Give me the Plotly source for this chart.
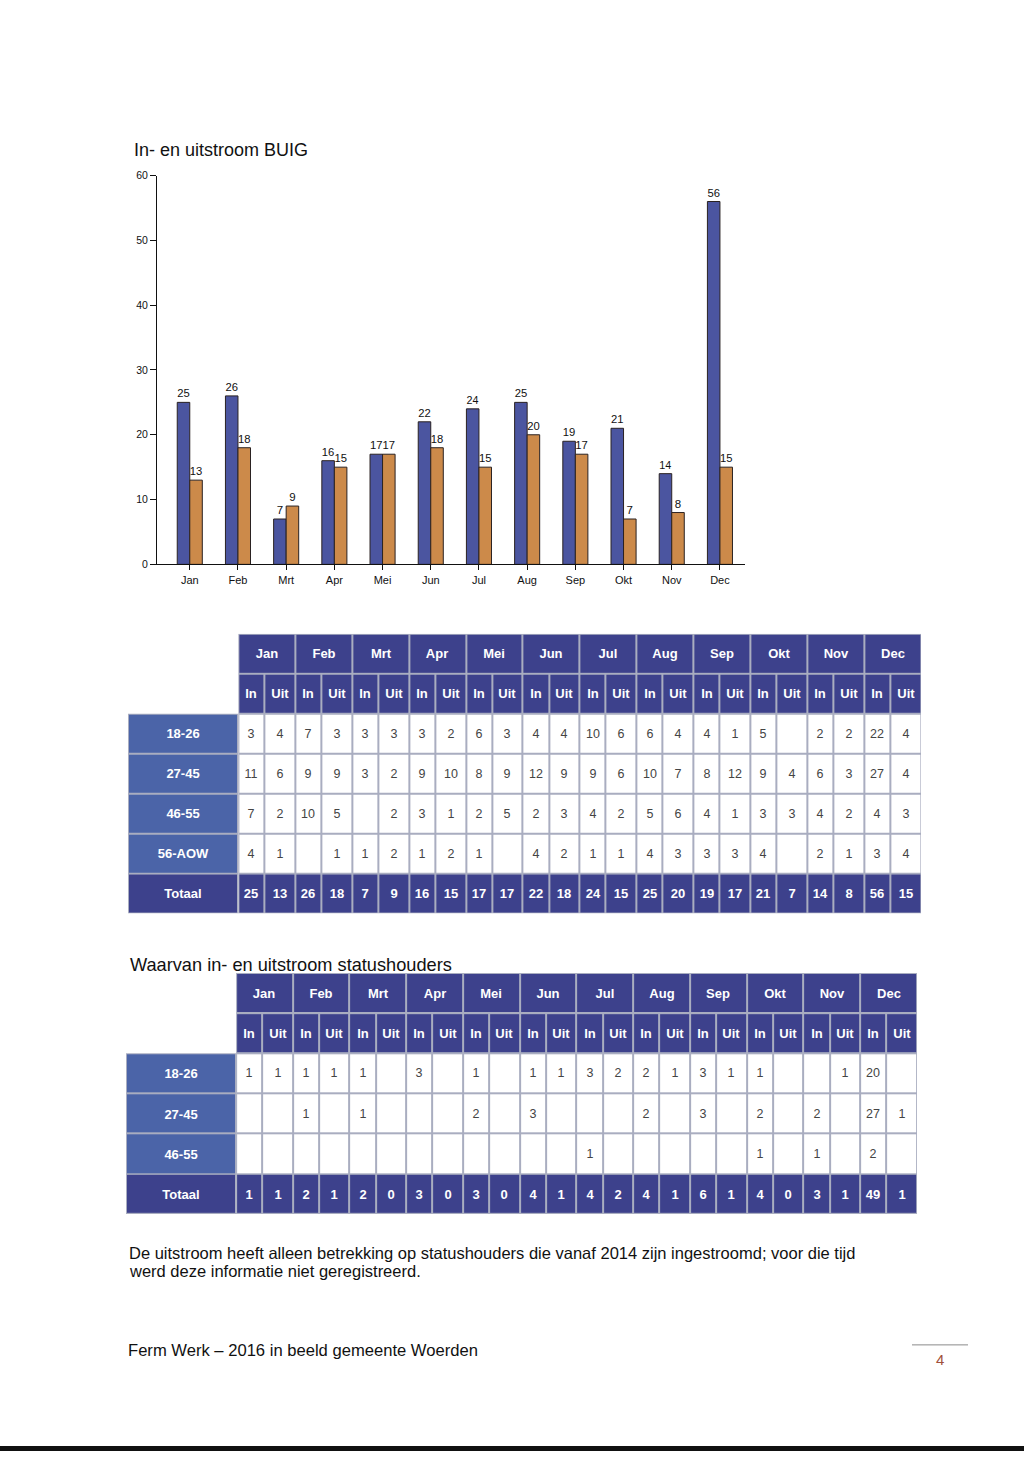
import plotly.graph_objects as go

# ---------------- data ----------------
months = ["Jan", "Feb", "Mrt", "Apr", "Mei", "Jun", "Jul", "Aug", "Sep", "Okt", "Nov", "Dec"]
buig_in = [25, 26, 7, 16, 17, 22, 24, 25, 19, 21, 14, 56]
buig_uit = [13, 18, 9, 15, 17, 18, 15, 20, 17, 7, 8, 15]
y_ticks = [0, 10, 20, 30, 40, 50, 60]
sub_headers = ["In", "Uit"]

age_groups = ["18-26", "27-45", "46-55", "56-AOW"]
in_18_26 = [3, 7, 3, 3, 6, 4, 10, 6, 4, 5, 2, 22]
uit_18_26 = [4, 3, 3, 2, 3, 4, 6, 4, 1, None, 2, 4]
in_27_45 = [11, 9, 3, 9, 8, 12, 9, 10, 8, 9, 6, 27]
uit_27_45 = [6, 9, 2, 10, 9, 9, 6, 7, 12, 4, 3, 4]
in_46_55 = [7, 10, None, 3, 2, 2, 4, 5, 4, 3, 4, 4]
uit_46_55 = [2, 5, 2, 1, 5, 3, 2, 6, 1, 3, 2, 3]
in_56_aow = [4, None, 1, 1, 1, 4, 1, 4, 3, 4, 2, 3]
uit_56_aow = [1, 1, 2, 2, None, 2, 1, 3, 3, None, 1, 4]

status_groups = ["18-26", "27-45", "46-55"]
st_in_18_26 = [1, 1, 1, 3, 1, 1, 3, 2, 3, 1, None, 20]
st_uit_18_26 = [1, 1, None, None, None, 1, 2, 1, 1, None, 1, None]
st_in_27_45 = [None, 1, 1, None, 2, 3, None, 2, 3, 2, 2, 27]
st_uit_27_45 = [None, None, None, None, None, None, None, None, None, None, None, 1]
st_in_46_55 = [None, None, None, None, None, None, 1, None, None, 1, 1, 2]
st_uit_46_55 = [None] * 12
st_tot_in = [1, 2, 2, 3, 3, 4, 4, 4, 6, 4, 3, 49]
st_tot_uit = [1, 1, 0, 0, 0, 1, 2, 1, 1, 0, 1, 1]

# ---------------- styles ----------------
W, H = 1024, 1457
FONT = "Liberation Sans, Arial, sans-serif"
NARROW = "Liberation Sans Narrow, Arial Narrow, Liberation Sans, Arial, sans-serif"
BLUE = "#4b55a0"
ORANGE = "#cc8a4a"
NAVY = "#3d418c"
LABEL_BLUE = "#4b64a8"
GRID = "#a9adc0"
IN_FRAC = 0.92


def px_x(p):
    return p / W


def px_y(p):
    return 1 - p / H


def interleave(a, b):
    out = []
    for u, v in zip(a, b):
        out += [u, v]
    return out


def s(v):
    return "" if v is None else str(v)


fig = go.Figure()

# ---------------- bar chart ----------------
fig.add_trace(go.Bar(
    x=months, y=buig_in, name="In", marker=dict(color=BLUE, line=dict(color="#2a2222", width=1)),
    text=buig_in, textposition="outside", cliponaxis=False,
    textfont=dict(family=NARROW, size=11.5, color="#111"), hoverinfo="skip"))
fig.add_trace(go.Bar(
    x=months, y=buig_uit, name="Uit", marker=dict(color=ORANGE, line=dict(color="#2a2222", width=1)),
    text=buig_uit, textposition="outside", cliponaxis=False,
    textfont=dict(family=NARROW, size=11.5, color="#111"), hoverinfo="skip"))

# ---------------- tables ----------------
col_edges = []
for m in range(len(months)):
    col_edges += [2 * m, 2 * m + IN_FRAC]
col_edges.append(2 * len(months))
month_edges = [2 * m for m in range(len(months) + 1)]
LABEL_W = 3.88


def cells(xa, ya, x_edges, y_edges, texts, fill, color, size, bold):
    tmpl = "<b>%{text}</b>" if bold else "%{text}"
    return go.Heatmap(
        x=x_edges, y=y_edges, z=[[0] * (len(x_edges) - 1) for _ in range(len(y_edges) - 1)],
        text=texts, texttemplate=tmpl, colorscale=[[0, fill], [1, fill]], showscale=False,
        xgap=2, ygap=2, hoverinfo="skip", xaxis=xa, yaxis=ya,
        textfont=dict(family=FONT, size=size, color=color))


def build_table(xa, ya, groups, in_rows, uit_rows, tot_in, tot_uit):
    n = len(groups)
    fig.add_trace(cells(xa, ya, month_edges, [0, 1], [months], NAVY, "white", 13, True))
    fig.add_trace(cells(xa, ya, col_edges, [1, 2], [sub_headers * len(months)], NAVY, "white", 13, True))
    data_txt = [[s(v) for v in interleave(a, b)] for a, b in zip(in_rows, uit_rows)]
    fig.add_trace(cells(xa, ya, col_edges, list(range(2, 3 + n)), data_txt, "white", "#444444", 12.5, False))
    fig.add_trace(cells(xa, ya, [-LABEL_W, 0], list(range(2, 3 + n)), [[g] for g in groups],
                        LABEL_BLUE, "white", 13, True))
    fig.add_trace(cells(xa, ya, [-LABEL_W, 0], [2 + n, 3 + n], [["Totaal"]], NAVY, "white", 13, True))
    fig.add_trace(cells(xa, ya, col_edges, [2 + n, 3 + n], [[s(v) for v in interleave(tot_in, tot_uit)]],
                        NAVY, "white", 13, True))
    return n + 3


rows1 = build_table("x2", "y2", age_groups,
                    [in_18_26, in_27_45, in_46_55, in_56_aow],
                    [uit_18_26, uit_27_45, uit_46_55, uit_56_aow], buig_in, buig_uit)
rows2 = build_table("x3", "y3", status_groups,
                    [st_in_18_26, st_in_27_45, st_in_46_55],
                    [st_uit_18_26, st_uit_27_45, st_uit_46_55], st_tot_in, st_tot_uit)

shapes = []
for ax, nrows in (("2", rows1), ("3", rows2)):
    shapes.append(dict(type="rect", xref="x" + ax, yref="y" + ax, x0=0, x1=24, y0=0, y1=nrows,
                       fillcolor=GRID, line=dict(width=0), layer="below"))
    shapes.append(dict(type="rect", xref="x" + ax, yref="y" + ax, x0=-LABEL_W, x1=0, y0=2, y1=nrows,
                       fillcolor=GRID, line=dict(width=0), layer="below"))
shapes.append(dict(type="line", xref="paper", yref="paper", x0=px_x(912), x1=px_x(968),
                   y0=px_y(1350), y1=px_y(1350), line=dict(color="#8a8a8a", width=1)))
shapes.append(dict(type="rect", xref="paper", yref="paper", x0=0, x1=1, y0=0, y1=5 / H,
                   fillcolor="#111111", line=dict(width=0)))

hidden = dict(visible=False, fixedrange=True, showgrid=False, zeroline=False)

annotations = [
    dict(text="In- en uitstroom BUIG", x=px_x(132), y=px_y(145), font=dict(size=18)),
    dict(text="Waarvan in- en uitstroom statushouders", x=px_x(128), y=px_y(967), font=dict(size=18.2)),
    dict(text="De uitstroom heeft alleen betrekking op statushouders die vanaf 2014 zijn ingestroomd; voor die tijd",
         x=px_x(127), y=px_y(1257), font=dict(size=16.5)),
    dict(text="werd deze informatie niet geregistreerd.", x=px_x(127), y=px_y(1276), font=dict(size=16.5)),
    dict(text="Ferm Werk – 2016 in beeld gemeente Woerden", x=px_x(126), y=px_y(1356), font=dict(size=16.6)),
    dict(text="4", x=px_x(940), y=px_y(1365), xanchor="center", font=dict(size=15, color="#a0503c")),
]
for a in annotations:
    a.update(xref="paper", yref="paper", showarrow=False, yanchor="middle")
    a.setdefault("xanchor", "left")
    a["font"].setdefault("color", "#111111")
    a["font"]["family"] = FONT

fig.update_layout(
    width=W, height=H, margin=dict(l=0, r=0, t=0, b=0),
    paper_bgcolor="white", plot_bgcolor="white", showlegend=False,
    barmode="group", bargap=0.48, bargroupgap=0.0,
    font=dict(family=FONT, color="#111"),
    xaxis=dict(domain=[px_x(157), px_x(745)], type="category", range=[-0.68, 11.52],
               showline=True, linecolor="#111", linewidth=1, ticks="outside", ticklen=5,
               tickcolor="#111", tickfont=dict(family=NARROW, size=11, color="#111"),
               showgrid=False, zeroline=False, fixedrange=True, anchor="y"),
    yaxis=dict(domain=[px_y(563), px_y(171)], range=[0, 60], tickvals=y_ticks,
               showline=True, linecolor="#111", linewidth=1, ticks="outside", ticklen=6,
               tickcolor="#111", tickfont=dict(family=NARROW, size=10.5, color="#111"),
               showgrid=False, zeroline=False, fixedrange=True, anchor="x"),
    xaxis2=dict(domain=[px_x(128), px_x(921)], range=[-LABEL_W, 24], anchor="y2", **hidden),
    yaxis2=dict(domain=[px_y(915), px_y(633)], range=[rows1, 0], anchor="x2", **hidden),
    xaxis3=dict(domain=[px_x(126), px_x(917)], range=[-LABEL_W, 24], anchor="y3", **hidden),
    yaxis3=dict(domain=[px_y(1218), px_y(975)], range=[rows2, 0], anchor="x3", **hidden),
    shapes=shapes, annotations=annotations,
)

fig.write_html("out.html")
